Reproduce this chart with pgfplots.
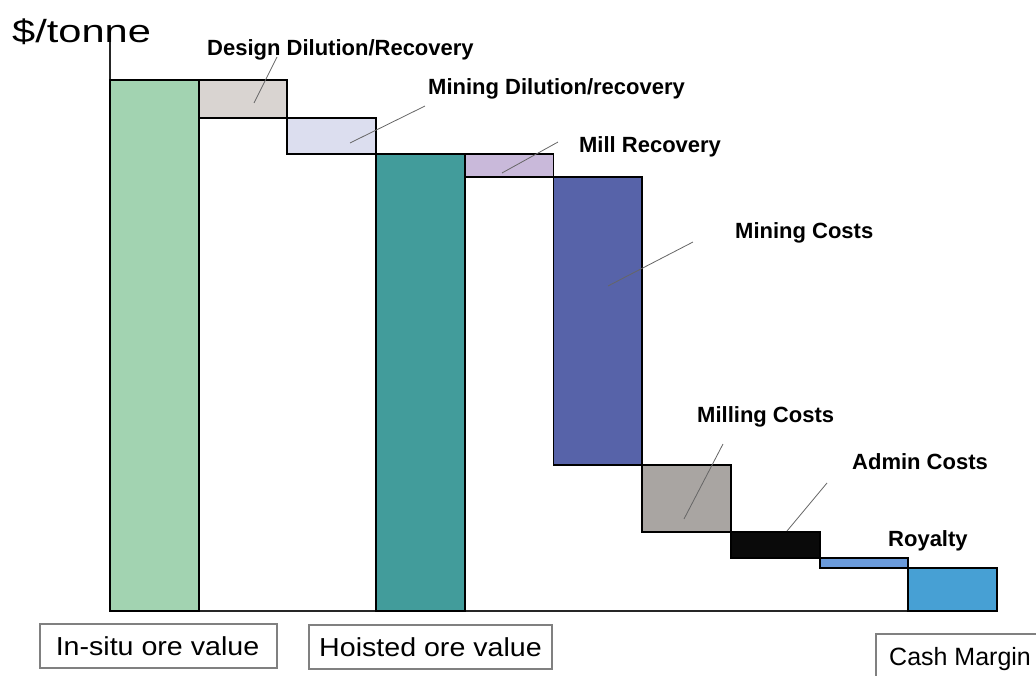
\documentclass[border=0pt]{standalone}
\usepackage{fontspec}
\setmainfont{Liberation Sans}
\newfontfamily\titlefont[FakeStretch=1.3]{Liberation Sans}
\newfontfamily\boxfont[FakeStretch=1.1]{Liberation Sans}
\usepackage{pgfplots}
\pgfplotsset{compat=1.18}
\definecolor{cInsitu}{HTML}{A2D3B1}
\definecolor{cDesign}{HTML}{D9D4D1}
\definecolor{cMinDil}{HTML}{DCDEEF}
\definecolor{cHoist}{HTML}{429C9B}
\definecolor{cMillRec}{HTML}{C9B9DA}
\definecolor{cMinCost}{HTML}{5763A9}
\definecolor{cMillCost}{HTML}{A9A5A2}
\definecolor{cAdmin}{HTML}{0A0A0A}
\definecolor{cRoyal}{HTML}{6A9ADA}
\definecolor{cCash}{HTML}{47A0D4}
\tikzset{
  bar/.style={draw=black, line width=1.9bp, line join=miter},
  lab/.style={font=\fontsize{22bp}{26bp}\selectfont\bfseries, anchor=base west, inner sep=0pt},
  lead/.style={draw=black!60, line width=0.8bp},
  obox/.style={draw=black!50, line width=1.3bp, fill=white},
}
\begin{document}
\begin{tikzpicture}
\begin{axis}[
  x=88.7bp, y=5.31bp,
  xmin=0, xmax=10, ymin=0, ymax=107.2,
  axis x line*=bottom, axis y line*=left,
  axis line style={line width=1.6bp, black!85},
  xtick=\empty, ytick=\empty,
  clip=false,
]
% bars: x from, x to, low, high
\addplot[bar, fill=cInsitu]   coordinates {(0,0) (0,100) (1,100) (1,0)} -- cycle;
\addplot[bar, fill=cDesign]   coordinates {(1,92.84) (1,100) (2,100) (2,92.84)} -- cycle;
\addplot[bar, fill=cMinDil]   coordinates {(2,86.06) (2,92.84) (3,92.84) (3,86.06)} -- cycle;
\addplot[bar, fill=cHoist]    coordinates {(3,0) (3,86.06) (4,86.06) (4,0)} -- cycle;
\addplot[bar, fill=cMillRec]  coordinates {(4,81.73) (4,86.06) (5,86.06) (5,81.73)} -- cycle;
\addplot[bar, fill=cMinCost]  coordinates {(5,27.50) (5,81.73) (6,81.73) (6,27.50)} -- cycle;
\addplot[bar, fill=cMillCost] coordinates {(6,14.88) (6,27.50) (7,27.50) (7,14.88)} -- cycle;
\addplot[bar, fill=cAdmin]    coordinates {(7,9.98) (7,14.88) (8,14.88) (8,9.98)} -- cycle;
\addplot[bar, fill=cRoyal]    coordinates {(8,8.10) (8,9.98) (9,9.98) (9,8.10)} -- cycle;
\addplot[bar, fill=cCash]     coordinates {(9,0) (9,8.10) (10,8.10) (10,0)} -- cycle;

% title
\node[anchor=base west, inner sep=0pt, font=\titlefont\fontsize{32bp}{36bp}\selectfont] at (axis cs:-1.1048,106.97) {\$/tonne};

% annotation labels
\node[lab] at (axis cs:1.0936,104.52) {Design Dilution/Recovery};
\node[lab] at (axis cs:3.585,97.18) {Mining Dilution/recovery};
\node[lab] at (axis cs:5.287,86.44) {Mill Recovery};
\node[lab] at (axis cs:7.046,70.24) {Mining Costs};
\node[lab] at (axis cs:6.618,35.59) {Milling Costs};
\node[lab] at (axis cs:8.365,26.74) {Admin Costs};
\node[lab] at (axis cs:8.771,12.24) {Royalty};

% leader lines
\draw[lead] (axis cs:1.6234,95.67) -- (axis cs:1.8827,104.33);
\draw[lead] (axis cs:2.7057,88.14) -- (axis cs:3.5513,95.10);
\draw[lead] (axis cs:4.4194,82.49) -- (axis cs:5.0507,88.32);
\draw[lead] (axis cs:5.6144,61.21) -- (axis cs:6.5727,69.49);
\draw[lead] (axis cs:6.4713,17.33) -- (axis cs:6.9109,31.45);
\draw[lead] (axis cs:7.6325,15.07) -- (axis cs:8.0834,24.11);

% category boxes
\draw[obox] (axis cs:-0.7892,-2.448) rectangle (axis cs:1.8827,-10.734);
\node[anchor=base, inner sep=0pt, font=\boxfont\fontsize{26bp}{30bp}\selectfont] at (axis cs:0.5355,-8.286) {In-situ ore value};
\draw[obox] (axis cs:2.2435,-2.637) rectangle (axis cs:4.9831,-10.923);
\node[anchor=base, inner sep=0pt, font=\boxfont\fontsize{26bp}{30bp}\selectfont] at (axis cs:3.6133,-8.475) {Hoisted ore value};
\draw[obox] (axis cs:8.6358,-4.331) rectangle (axis cs:10.936,-14.88);
\node[anchor=base west, inner sep=0pt, font=\fontsize{25bp}{30bp}\selectfont] at (axis cs:8.7824,-10.17) {Cash Margin};

\coordinate (BL) at (axis cs:-1.2401,-12.241);
\coordinate (TR) at (axis cs:10.4397,115.066);
\end{axis}
\pgfresetboundingbox
\path[use as bounding box] (BL) rectangle (TR);
\end{tikzpicture}
\end{document}
